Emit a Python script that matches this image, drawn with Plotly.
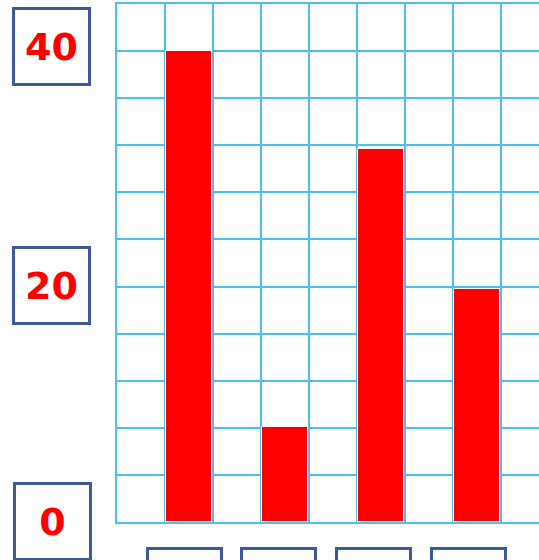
import plotly.graph_objects as go

categories = ["A", "B", "C", "D"]
values = [40, 8.1, 31.7, 19.8]
y_tick_labels = [40, 20, 0]

GRID = "#48C0F0"
BOX = "#3C5A99"
RED = "#FF0000"

xs = list(range(len(categories)))

fig = go.Figure()
fig.add_trace(go.Bar(
    x=xs, y=values, width=0.47,
    marker=dict(color=RED, line=dict(color="white", width=1)),
    hoverinfo="skip", showlegend=False,
))

annotations = []
yshifts = {40: 4.5, 20: 1.5, 0: 0.5}
for v in y_tick_labels:
    annotations.append(dict(
        x=0, xref="paper", xanchor="center", xshift=-65.5 + (1 if v == 0 else 0),
        y=v, yref="y", yanchor="middle", yshift=yshifts[v],
        text=f"<b>{v}</b>", showarrow=False,
        font=dict(family="DejaVu Sans", size=38, color=RED),
        width=73, height=73, borderpad=0,
        bordercolor=BOX, borderwidth=3, bgcolor="white",
    ))
for i, c in enumerate(categories):
    annotations.append(dict(
        x=i, xref="x", xanchor="center", xshift=-5 - 1 * i,
        y=0, yref="paper", yanchor="top", yshift=-25,
        text=" ", showarrow=False,
        font=dict(family="DejaVu Sans", size=30, color=RED),
        width=71, height=71, borderpad=0,
        bordercolor=BOX, borderwidth=3, bgcolor="white",
    ))

fig.update_layout(
    width=539, height=560,
    margin=dict(l=117, r=0, t=4, b=38),
    paper_bgcolor="white", plot_bgcolor="white",
    xaxis=dict(
        type="linear", range=[-0.75, 3.646],
        tickmode="linear", tick0=-0.75, dtick=0.5,
        showgrid=True, gridcolor=GRID, gridwidth=2,
        showticklabels=False, zeroline=False,
        showline=True, linecolor=GRID, linewidth=2, mirror=True,
    ),
    yaxis=dict(
        range=[0, 44], tickmode="linear", tick0=0, dtick=4,
        showgrid=True, gridcolor=GRID, gridwidth=2,
        showticklabels=False, zeroline=False,
        showline=True, linecolor=GRID, linewidth=2,
    ),
    annotations=annotations,
    bargap=0,
)

fig.write_html(
    "out.html",
    config={"displayModeBar": False},
    post_script="document.body.style.margin='0';document.body.style.overflow='hidden';",
)
